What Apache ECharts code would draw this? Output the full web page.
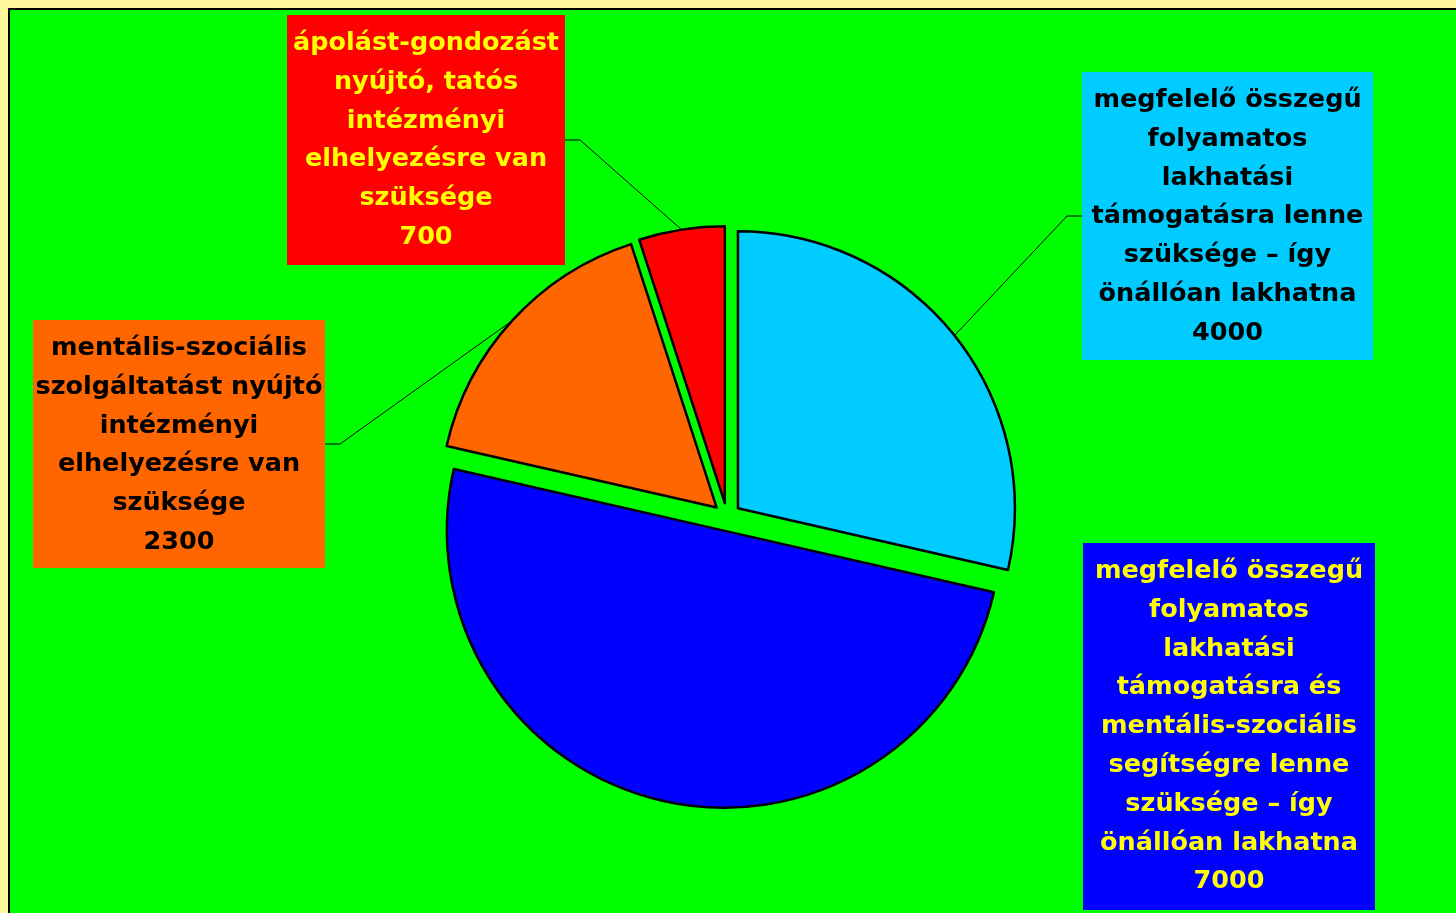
<!DOCTYPE html>
<html><head><meta charset="utf-8">
<script src="https://cdn.jsdelivr.net/npm/echarts@6/dist/echarts.min.js"></script>
<style>html,body{margin:0;padding:0;background:#FFF799;overflow:hidden}#c{width:1456px;height:913px}</style>
</head><body><div id="c"></div>
<script>
const categories = [
  'megfelelő összegű\nfolyamatos\nlakhatási\ntámogatásra lenne\nszüksége – így\nönállóan lakhatna',
  'megfelelő összegű\nfolyamatos\nlakhatási\ntámogatásra és\nmentális-szociális\nsegítségre lenne\nszüksége – így\nönállóan lakhatna',
  'mentális-szociális\nszolgáltatást nyújtó\nintézményi\nelhelyezésre van\nszüksége',
  'ápolást-gondozást\nnyújtó, tatós\nintézményi\nelhelyezésre van\nszüksége'
];
const values = [4000, 7000, 2300, 700];

const sliceColors = ['#00CCFF', '#0000FF', '#FF6600', '#FF0000'];
const labelColors = ['#000000', '#FFFF00', '#000000', '#FFFF00'];
// label box layout: left, top, width, height (page pixels)
const labelBoxes = [[1082, 72, 291, 288], [1083, 543, 292, 367], [33, 320, 292, 248], [287, 15, 278, 250]];
const pieCenter = [727, 517];
const pieRadius = 277;
const explode = 14;

const chart = echarts.init(document.getElementById('c'), null, { renderer: 'canvas' });
const total = values.reduce((a, b) => a + b, 0);
let acc = 0;
const series = values.map((v, i) => {
  const mid = (acc + v / 2) / total * 2 * Math.PI;
  acc += v;
  const center = [pieCenter[0] + explode * Math.sin(mid), pieCenter[1] - explode * Math.cos(mid)];
  return {
    type: 'pie', center: center, radius: pieRadius, startAngle: 90, clockwise: true,
    silent: true, avoidLabelOverlap: false, emphasis: { disabled: true },
    label: {
      show: true, position: 'outside', formatter: p => p.name + '\n' + p.value,
      fontFamily: 'DejaVu Sans', fontWeight: 'bold', fontSize: 25.5, lineHeight: 38.8,
      align: 'center', padding: [9, 0, 8, 0], overflow: 'none'
    },
    labelLine: { show: true, length: 20, length2: 15, lineStyle: { color: '#000', width: 1 } },
    labelLayout: p => { const b = labelBoxes[p.dataIndex]; return { x: b[0] + b[2] / 2, y: b[1], align: 'center', verticalAlign: 'top' }; },
    data: categories.map((n, j) => j === i ? {
      name: n, value: values[j],
      itemStyle: { color: sliceColors[j], borderColor: '#000', borderWidth: 2.5 },
      label: { color: labelColors[j], backgroundColor: sliceColors[j], width: labelBoxes[j][2], height: labelBoxes[j][3] - 17 },
      labelLine: { show: j !== 1 }
    } : {
      name: n, value: values[j],
      itemStyle: { color: 'rgba(0,0,0,0)', borderWidth: 0 },
      label: { show: false }, labelLine: { show: false }
    })
  };
});
const option = {
  animation: false,
  graphic: [{ type: 'rect', z: -10, shape: { x: 9, y: 9, width: 1460, height: 920 }, style: { fill: '#00FF00', stroke: '#000', lineWidth: 2 } }],
  series: series
};
chart.setOption(option);
</script></body></html>
